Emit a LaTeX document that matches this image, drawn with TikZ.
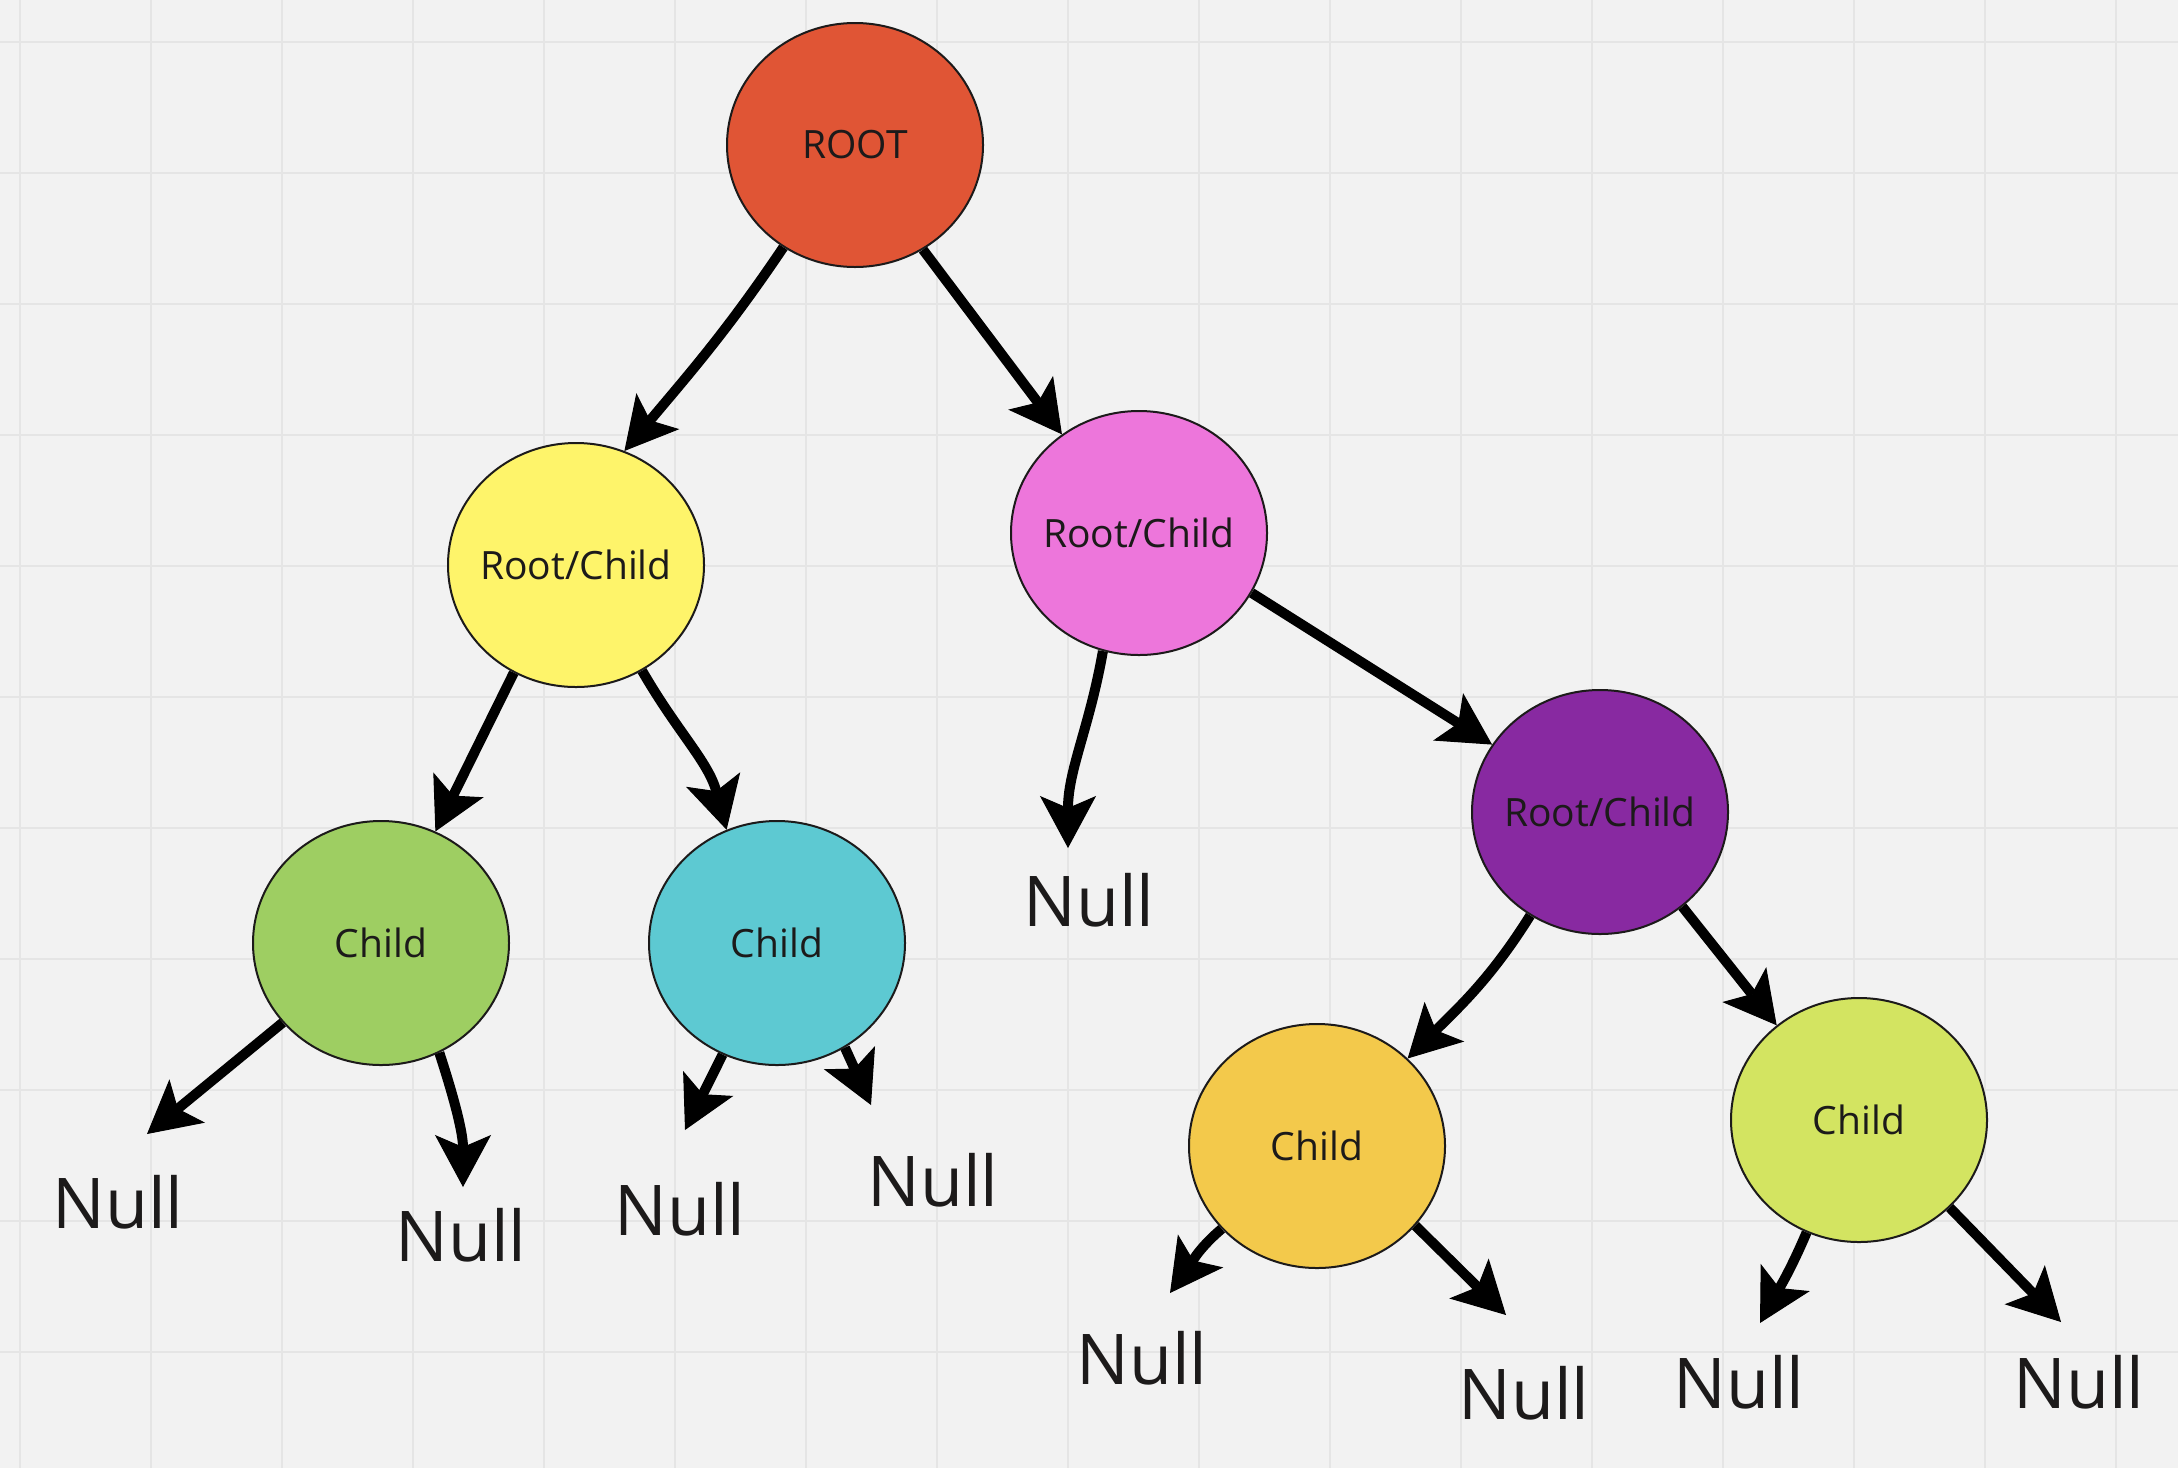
\documentclass[tikz,border=0pt]{standalone}
\usepackage{fontspec}
\setmainfont{Open Sans}
\usepackage{tikz}
\usetikzlibrary{arrows.meta,shapes.geometric,backgrounds}
\definecolor{boardbg}{RGB}{242,242,242}
\definecolor{boardgrid}{RGB}{229,229,229}
\definecolor{inkdark}{RGB}{28,26,26}
\definecolor{rootred}{RGB}{224,85,53}
\definecolor{yellowfill}{RGB}{254,244,106}
\definecolor{pinkfill}{RGB}{237,118,219}
\definecolor{purplefill}{RGB}{136,41,161}
\definecolor{greenfill}{RGB}{158,206,98}
\definecolor{cyanfill}{RGB}{93,201,210}
\definecolor{orangefill}{RGB}{243,201,75}
\definecolor{limefill}{RGB}{211,228,97}
\tikzset{
bubble/.style={ellipse, draw=inkdark, line width=1pt, minimum width=128pt, minimum height=122pt, inner sep=0pt, inner xsep=-14pt, text=inkdark, font=\fontsize{19.5pt}{23pt}\selectfont}, % coloured tree nodes
nulltext/.style={inner sep=0pt, text=inkdark, font=\fontsize{35pt}{42pt}\selectfont}, % the Null leaves
link/.style={line width=5pt, -{Stealth[length=26pt,width=28pt,inset=6pt,line width=0.5pt]}}, % thick black arrows
}

\begin{document}
\begin{tikzpicture}[x=0.5pt,y=0.5pt,yscale=-1,xscale=1]
\useasboundingbox (0,0) rectangle (2178,1468);

% Board
\begin{scope}[on background layer]
\fill[boardbg] (0,0) rectangle (2178,1468);
\foreach \gx in {0,...,16} \draw[boardgrid, line width=1pt] (20+131*\gx,0) -- (20+131*\gx,1468);
\foreach \gy in {0,...,10} \draw[boardgrid, line width=1pt] (0,42+131*\gy) -- (2178,42+131*\gy);
\end{scope}

% Tree Node
\node[bubble, fill=rootred] (root) at (855,145) {ROOT};
% Tree Node
\node[bubble, fill=yellowfill] (l) at (576,565) {Root/Child};
% Tree Node
\node[bubble, fill=pinkfill] (r) at (1139,533) {Root/Child};
% Tree Node
\node[bubble, fill=purplefill] (rr) at (1600,812) {Root/Child};
% Tree Node
\node[bubble, fill=greenfill] (ll) at (381,943) {Child};
% Tree Node
\node[bubble, fill=cyanfill] (lr) at (777,943) {Child};
% Tree Node
\node[bubble, fill=orangefill] (rrl) at (1317,1146) {Child};
% Tree Node
\node[bubble, fill=limefill] (rrr) at (1859,1120) {Child};

% Text Node
\node[nulltext] (lln) at (118,1202) {Null};
\node[nulltext] (llm) at (461,1235) {Null};
\node[nulltext] (lrn) at (680,1209) {Null};
\node[nulltext] (lrm) at (933,1180) {Null};
\node[nulltext] (rn) at (1089,900) {Null};
\node[nulltext] (rrln) at (1142,1358) {Null};
\node[nulltext] (rrlm) at (1524,1393) {Null};
\node[nulltext] (rrrn) at (1739,1382) {Null};
\node[nulltext] (rrrm) at (2079,1382) {Null};

% Arrow tips above the Null leaves
\coordinate (tlln) at (147,1134);
\coordinate (tllm) at (463,1187);
\coordinate (tlrn) at (685,1130);
\coordinate (tlrm) at (871,1105);
\coordinate (trn) at (1068,848);
\coordinate (trrln) at (1170,1293);
\coordinate (trrlm) at (1506,1315);
\coordinate (trrrn) at (1760,1323);
\coordinate (trrrm) at (2061,1322);

% Connection
\begin{scope}[on background layer]
\draw[link] (root.235) to[out=124,in=-50] (l.67);
\draw[link] (root.303) -- (r.128);
\draw[link] (l.240) -- (ll.64);
\draw[link] (l.302) to[out=60,in=-105] (lr.114);
\draw[link] (r.253) to[out=100,in=-90] (trn);
\draw[link] (r.332) -- (rr.148);
\draw[link] (ll.219) -- (tlln);
\draw[link] (ll.298) to[out=72,in=-90] (tllm);
\draw[link] (lr.244) -- (tlrn);
\draw[link] (lr.303) -- (tlrm);
\draw[link] (rr.236) to[out=122,in=-45] (rrl.44);
\draw[link] (rr.311) -- (rrr.131);
\draw[link] (rrl.221) to[out=140,in=-54] (trrln);
\draw[link] (rrl.321) -- (trrlm);
\draw[link] (rrr.245) to[out=113,in=-61] (trrrn);
\draw[link] (rrr.316) -- (trrrm);
\end{scope}

\end{tikzpicture}
\end{document}
